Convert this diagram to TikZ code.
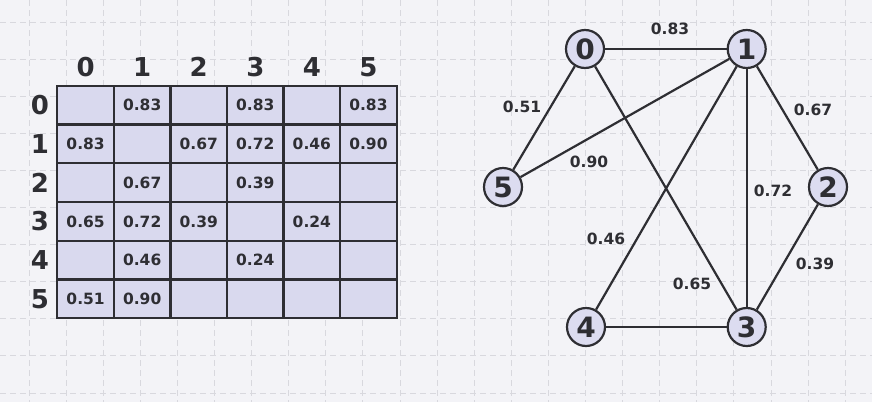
\documentclass[tikz,border=0pt]{standalone}
\usepackage{fontspec}
\setmainfont{DejaVu Sans}
\definecolor{bg}{HTML}{F3F3F7}
\definecolor{gridcol}{HTML}{D8D8DE}
\definecolor{cellfill}{HTML}{D9D9EE}
\definecolor{nodefill}{HTML}{DCDCF0}
\definecolor{ink}{HTML}{2E2E33}
\tikzset{
  gridline/.style={gridcol, line width=1pt, dash pattern=on 6pt off 4pt},
  cell/.style={draw=ink, fill=cellfill, line width=2.3pt, minimum width=56.57pt, minimum height=38.77pt, inner sep=0pt},
  val/.style={text=ink, font=\fontsize{15.5}{17}\selectfont\bfseries, inner sep=0pt},
  hdr/.style={text=ink, font=\fontsize{26}{28}\selectfont\bfseries, inner sep=0pt},
  vertex/.style={circle, draw=ink, fill=nodefill, line width=2.2pt, minimum size=38pt, inner sep=0pt, text=ink, font=\fontsize{28}{30}\selectfont\bfseries},
  edge/.style={draw=ink, line width=2.2pt},
  elabel/.style={text=ink, font=\fontsize{15.5}{17}\selectfont\bfseries, inner sep=0pt}
}
\begin{document}
\begin{tikzpicture}[x=1pt,y=-1pt]
\useasboundingbox (0,0) rectangle (872,402);
\fill[bg] (0,0) rectangle (872,402);
\foreach \k in {0,...,22} \draw[gridline] ({29+37.1*\k},0) -- ({29+37.1*\k},402);
\foreach \k in {0,...,10} \draw[gridline] (0,{22+37.1*\k}) -- (872,{22+37.1*\k});
% matrix
\foreach \r in {0,...,5} {
  \foreach \c in {0,...,5} {
    \node[cell] (m\r\c) at ({57.3+56.57*(\c+0.5)},{85.7+38.77*(\r+0.5)}) {};
  }
}
\foreach \c in {0,...,5} \node[hdr] (h\c) at ({57.3+56.57*(\c+0.5)},67) {\c};
\foreach \r in {0,...,5} \node[hdr] (r\r) at (40,{85.7+38.77*(\r+0.5)}) {\r};
\foreach \r/\c/\v in {0/1/0.83,0/3/0.83,0/5/0.83,
  1/0/0.83,1/2/0.67,1/3/0.72,1/4/0.46,1/5/0.90,
  2/1/0.67,2/3/0.39,
  3/0/0.65,3/1/0.72,3/2/0.39,3/4/0.24,
  4/1/0.46,4/3/0.24,
  5/0/0.51,5/1/0.90}
  \node[val] (v\r\c) at (m\r\c) {\v};
% graph
\node[vertex] (n0) at (585,49) {0};
\node[vertex] (n1) at (746.7,49) {1};
\node[vertex] (n5) at (503,187) {5};
\node[vertex] (n2) at (828,187) {2};
\node[vertex] (n4) at (586,327) {4};
\node[vertex] (n3) at (746.7,327) {3};
\draw[edge] (n0) -- (n1);
\draw[edge] (n0) -- (n5);
\draw[edge] (n0) -- (n3);
\draw[edge] (n1) -- (n5);
\draw[edge] (n1) -- (n4);
\draw[edge] (n1) -- (n3);
\draw[edge] (n1) -- (n2);
\draw[edge] (n2) -- (n3);
\draw[edge] (n4) -- (n3);
\node[elabel] (l01) at (670,29) {0.83};
\node[elabel] (l05) at (522,107) {0.51};
\node[elabel] (l12) at (813,110) {0.67};
\node[elabel] (l15) at (589,162) {0.90};
\node[elabel] (l13) at (773,191) {0.72};
\node[elabel] (l14) at (606,239) {0.46};
\node[elabel] (l03) at (692,284) {0.65};
\node[elabel] (l23) at (815,264) {0.39};
\end{tikzpicture}
\end{document}
